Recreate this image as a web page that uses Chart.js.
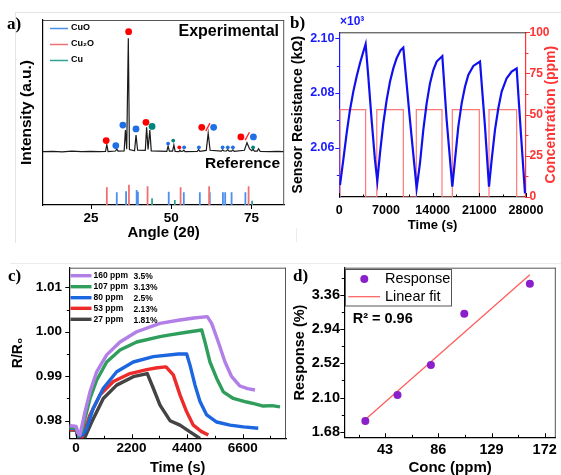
<!DOCTYPE html>
<html>
<head>
<meta charset="utf-8">
<script src="https://cdn.jsdelivr.net/npm/chart.js@4.4.1/dist/chart.umd.min.js"></script>
<style>
  html, body { margin: 0; padding: 0; background: #fff; }
  #fig { position: relative; width: 561px; height: 475px; overflow: hidden; background: #fff; }
  #fig canvas { position: absolute; }
  .rule { position: absolute; background: #e4e4e4; }
</style>
</head>
<body>
<div id="fig">
  <div class="rule" style="left:15px;top:12px;width:546px;height:1px"></div>
  <div class="rule" style="left:15px;top:12px;width:1px;height:231px"></div>
  <div class="rule" style="left:10px;top:263px;width:551px;height:1px;background:#ececec"></div>
  <div class="rule" style="left:296px;top:228px;width:1px;height:14px;background:#ececec"></div>
  <canvas id="chartA" width="290" height="250" style="left:0;top:0"></canvas>
  <canvas id="chartB" width="275" height="245" style="left:286px;top:0"></canvas>
  <canvas id="chartC" width="290" height="240" style="left:0;top:240px"></canvas>
  <canvas id="chartD" width="275" height="240" style="left:286px;top:240px"></canvas>
</div>
<script>
// ---------- a) XRD ----------
const xrdAngle = [10, 13, 16, 19, 22, 25, 27.5, 29.5, 29.9, 30.3, 32.6, 33.0, 33.4,
  35.3, 35.7, 36.1, 36.6, 36.95, 38.55, 39.0, 39.5, 41.9, 42.3, 42.75, 43.3, 43.75,
  48.6, 49.0, 49.4, 50.4, 50.8, 51.2, 52.4, 52.7, 53.0, 53.6, 53.9, 54.3,
  58.1, 58.5, 58.9, 60.9, 61.5, 62.1, 65.6, 66.0, 66.4, 67.2, 67.6, 68.0, 68.8, 69.2, 69.6,
  72.8, 73.6, 74.4, 75.1, 75.5, 75.9, 76.8, 77.2, 77.7, 80.5, 83, 85.2];
const xrdIntensity = [28.8, 29.0, 28.7, 29.1, 28.8, 29.0, 28.8, 29.0, 32.6, 28.9, 29.2, 30.3, 29.1,
  29.2, 40.5, 30.2, 90.1, 30.0, 29.3, 37.8, 29.6, 29.5, 42.0, 30.0, 40.5, 29.3,
  29.0, 31.9, 29.1, 29.1, 32.4, 29.0, 28.9, 29.6, 29.0, 29.1, 29.7, 28.9,
  29.0, 30.0, 29.0, 29.5, 38.8, 29.6, 29.1, 29.8, 29.2, 29.2, 29.9, 29.1, 29.1, 29.8, 29.0,
  29.6, 33.7, 30.3, 29.4, 30.2, 29.1, 29.1, 30.4, 29.0, 28.9, 29.0, 28.8];
const cuoRefAngle = [33.0, 35.9, 39.2, 39.6, 49.2, 53.9, 58.9, 62.0, 66.1, 66.8, 68.8, 73.1];
const cuoRefHeight = [6.9, 7.4, 8.1, 7.2, 7.2, 6.9, 6.9, 6.9, 6.9, 6.9, 6.9, 6.9];
const cu2oRefAngle = [29.9, 36.8, 42.6, 52.9, 61.8, 74.1];
const cu2oRefHeight = [9.6, 11.0, 10.1, 9.6, 10.1, 10.1];
const cuRefAngle = [44.0, 51.1, 75.2];
const cuRefHeight = [3.6, 2.7, 2.3];
const cu2oMarkAngle = [29.7, 36.7, 42.1, 59.5, 71.7];
const cu2oMarkLevel = [34.8, 93.7, 44.7, 42.0, 36.8];
const cuoMarkAngle = [32.7, 34.9, 39.0, 63.2, 75.6];
const cuoMarkLevel = [32.1, 43.2, 41.1, 42.0, 36.8];
const cuMarkAngle = [44.0];
const cuMarkLevel = [42.5];
const cuoDotAngle = [49.0, 54.0, 58.6, 66.0, 67.6, 69.2];
const cuoDotLevel = [33.2, 31.2, 31.2, 31.2, 31.2, 31.2];
const cu2oDotAngle = [52.5];
const cu2oDotLevel = [31.2];
const cuDotAngle = [50.6, 75.5];
const cuDotLevel = [34.8, 31.2];
const slashAngle = [61.4, 73.7];
const slashLevel = [42.1, 37.2];
const angleTicks = [25, 50, 75];

// ---------- b) resistance cycles ----------
const timeB = [105, 600, 1100, 1600, 2100, 2600, 3100, 3600, 3950, 4350, 4850, 5350, 5700,
  6100, 6600, 7100, 7600, 8100, 8600, 9200, 9600, 10600, 11600,
  12100, 12600, 13100, 13600, 14100, 14600, 15450, 16100, 16950,
  17350, 17850, 18350, 18850, 19350, 20100, 21100, 21850, 22450,
  22850, 23350, 23850, 24350, 25100, 25850, 26600, 27200, 27850];
const resistance = [2.0463, 2.0555, 2.0652, 2.0738, 2.0805, 2.0860, 2.0909, 2.0951, 2.0979, 2.0860, 2.0701, 2.0555, 2.0478,
  2.0579, 2.0689, 2.0774, 2.0841, 2.0890, 2.0927, 2.0957, 2.0966, 2.0701, 2.0451,
  2.0543, 2.0665, 2.0762, 2.0835, 2.0884, 2.0915, 2.0935, 2.0701, 2.0457,
  2.0555, 2.0677, 2.0762, 2.0823, 2.0866, 2.0899, 2.0915, 2.0677, 2.0457,
  2.0555, 2.0665, 2.0744, 2.0805, 2.0854, 2.0878, 2.0890, 2.0665, 2.0433];
const concTime = [0, 105, 105, 3950, 3950, 5620, 5620, 9600, 9600, 11550, 11550, 15400, 15400,
  16950, 16950, 21000, 21000, 22450, 22450, 26600, 26600, 28000];
const concPpm = [0, 0, 53, 53, 0, 0, 53, 53, 0, 0, 53, 53, 0, 0, 53, 53, 0, 0, 53, 53, 0, 0];
const timeTicksB = [0, 7000, 14000, 21000, 28000];
const resTicks = [2.06, 2.08, 2.10];
const concTicks = [0, 25, 50, 75, 100];

// ---------- c) R/R0 transients ----------
const t160 = [-262, -117, 8, 86, 158, 356, 555, 819, 1216, 1742, 2404, 3327, 4052, 4667, 5200, 5373, 5636, 5901, 6166, 6494, 6794, 7089];
const r160 = [0.9789, 0.9788, 0.9787, 0.9770, 0.9768, 0.9820, 0.9865, 0.9910, 0.9948, 0.9977, 1.0000, 1.0019, 1.0026, 1.0031, 1.0034, 1.0019, 0.9977, 0.9932, 0.9899, 0.9878, 0.9872, 0.9869];
const t107 = [-262, -117, 8, 86, 221, 555, 819, 1216, 1742, 2404, 3327, 3723, 4383, 4978, 5108, 5306, 5572, 5833, 6229, 6760, 7084, 7417, 7761, 8080];
const r107 = [0.9785, 0.9784, 0.9783, 0.9766, 0.9775, 0.9850, 0.9891, 0.9932, 0.9959, 0.9977, 0.9989, 0.9993, 0.9999, 1.0004, 0.9977, 0.9932, 0.9895, 0.9865, 0.9850, 0.9842, 0.9838, 0.9833, 0.9834, 0.9831];
const t80 = [-262, -117, 8, 86, 269, 424, 685, 1081, 1612, 2269, 3061, 4052, 4383, 4515, 4713, 4911, 5176, 5572, 6099, 6626, 7219];
const r80 = [0.9783, 0.9783, 0.9781, 0.9764, 0.9768, 0.9783, 0.9828, 0.9873, 0.9910, 0.9932, 0.9944, 0.9950, 0.9950, 0.9925, 0.9880, 0.9843, 0.9813, 0.9797, 0.9790, 0.9786, 0.9783];
const t53 = [-262, -117, 8, 86, 226, 555, 951, 1478, 2139, 2800, 3218, 3565, 3854, 4118, 4383, 4645, 4957, 5240];
const r53 = [0.9780, 0.9780, 0.9779, 0.9762, 0.9760, 0.9813, 0.9858, 0.9888, 0.9906, 0.9915, 0.9919, 0.9921, 0.9903, 0.9858, 0.9820, 0.9790, 0.9776, 0.9768];
const t27 = [-262, -117, 8, 86, 318, 622, 1081, 1612, 2269, 2824, 3061, 3327, 3723, 4118, 4515, 4911];
const r27 = [0.9779, 0.9779, 0.9778, 0.9760, 0.9758, 0.9797, 0.9850, 0.9880, 0.9899, 0.9906, 0.9873, 0.9835, 0.9800, 0.9790, 0.9775, 0.9760];
const concLabels = ['160 ppm', '107 ppm', '80 ppm', '53 ppm', '27 ppm'];
const respLabels = ['3.5%', '3.13%', '2.5%', '2.13%', '1.81%'];
const timeTicksC = [0, 2200, 4400, 6600];
const ratioTicks = [0.98, 0.99, 1.00, 1.01];

// ---------- d) response vs concentration ----------
const concD = [27, 53, 80, 107, 160];
const responseD = [1.81, 2.13, 2.50, 3.13, 3.50];
const fitConc = [27, 160];
const fitResponse = [1.83, 3.61];
const concTicksD = [43, 86, 129, 172];
const respTicksD = [1.68, 2.10, 2.52, 2.94, 3.36];

const SANS = '"Liberation Sans", Arial, sans-serif';
const SERIF = '"Liberation Serif", "Times New Roman", serif';
const font = (size, weight = 'bold') => ({ family: SANS, size, weight });
const xy = (xs, ys) => xs.map((x, i) => ({ x, y: ys[i] }));
const sticks = (xs, hs) => xs.flatMap((x, i) => [{ x, y: 0 }, { x, y: hs[i] }, { x, y: null }]);
const between = (list) => list.slice(0, -1).map((v, i) => (v + list[i + 1]) / 2);

Chart.defaults.animation = false;
Chart.defaults.plugins.legend.display = false;
Chart.defaults.plugins.tooltip.enabled = false;
Chart.defaults.color = '#000';

function text(ctx, str, x, y, f, color = '#000', align = 'left', rot = 0) {
  ctx.save();
  ctx.translate(x, y);
  ctx.rotate(rot);
  ctx.font = f;
  ctx.fillStyle = color;
  ctx.textAlign = align;
  ctx.textBaseline = 'middle';
  ctx.fillText(str, 0, 0);
  ctx.restore();
}

// frame edges, short/long tick marks and free text
function decor(spec) {
  return {
    id: 'decor',
    afterDraw(chart) {
      const ctx = chart.ctx, a = chart.chartArea;
      ctx.save();
      if (spec.frame) {
        ctx.strokeStyle = spec.frame.color;
        ctx.lineWidth = 1;
        ctx.beginPath();
        if (spec.frame.top) { ctx.moveTo(a.left, a.top + 0.5); ctx.lineTo(a.right, a.top + 0.5); }
        if (spec.frame.right) { ctx.moveTo(a.right - 0.5, a.top); ctx.lineTo(a.right - 0.5, a.bottom); }
        ctx.stroke();
      }
      (spec.ticks || []).forEach(t => {
        const s = chart.scales[t.axis];
        ctx.strokeStyle = t.color || '#000';
        ctx.lineWidth = 1;
        const mark = (v, len) => {
          const p = Math.round(s.getPixelForValue(v)) + 0.5;
          ctx.beginPath();
          if (s.isHorizontal()) {
            ctx.moveTo(p, s.top);
            ctx.lineTo(p, s.top + (t.inward ? -len : len));
          } else if (s.position === 'left') {
            ctx.moveTo(s.right, p);
            ctx.lineTo(s.right + (t.inward ? len : -len), p);
          } else {
            ctx.moveTo(s.left, p);
            ctx.lineTo(s.left + (t.inward ? -len : len), p);
          }
          ctx.stroke();
        };
        t.major.forEach(v => mark(v, 4));
        (t.minor || []).forEach(v => mark(v, 2.5));
      });
      if (spec.draw) spec.draw(ctx, chart);
      ctx.restore();
    }
  };
}

function axis(o) {
  const cfg = {
    type: 'linear',
    position: o.position,
    min: o.min, max: o.max,
    grid: { display: false, drawTicks: false },
    border: { color: o.color || '#000', width: 1.2 },
    ticks: {
      display: !!o.ticks,
      font: font(o.tickSize || 13),
      color: o.color || '#000',
      padding: o.pad || 3,
      maxRotation: 0,
      autoSkip: false,
      callback: o.fmt || (v => String(v))
    },
    title: o.title ? { display: true, text: o.title, font: font(o.titleSize || 14), color: o.titleColor || '#000', padding: o.titlePad } : { display: false },
    afterFit: s => { if (o.width !== undefined) s.width = o.width; if (o.height !== undefined) s.height = o.height; }
  };
  if (o.ticks) cfg.afterBuildTicks = s => { s.ticks = o.ticks.map(v => ({ value: v })); };
  return cfg;
}

// ---------- chart a ----------
const dotSet = (xs, ys, color, r) => ({ data: xy(xs, ys), pointRadius: r, pointBackgroundColor: color, pointBorderWidth: 0, showLine: false });
new Chart(document.getElementById('chartA'), {
  type: 'scatter',
  data: {
    datasets: [
      dotSet(cu2oMarkAngle, cu2oMarkLevel, '#ff0000', 3.4),
      dotSet(cuoMarkAngle, cuoMarkLevel, '#1f6fe5', 3.4),
      dotSet(cuMarkAngle, cuMarkLevel, '#00857c', 3.4),
      dotSet(cuoDotAngle, cuoDotLevel, '#1f6fe5', 1.9),
      dotSet(cu2oDotAngle, cu2oDotLevel, '#ff0000', 1.9),
      dotSet(cuDotAngle, cuDotLevel, '#00857c', 1.9),
      { data: xy(slashAngle, slashLevel), pointStyle: 'line', rotation: -62, pointRadius: 4.5, pointBorderColor: '#ff2020', pointBorderWidth: 1.3, showLine: false },
      { data: xy(xrdAngle, xrdIntensity), showLine: true, borderColor: '#1a1a1a', borderWidth: 1.2, pointRadius: 0 },
      { data: sticks(cu2oRefAngle, cu2oRefHeight), showLine: true, borderColor: '#f07070', borderWidth: 1.8, pointRadius: 0 },
      { data: sticks(cuoRefAngle, cuoRefHeight), showLine: true, borderColor: '#4b8ff0', borderWidth: 1.8, pointRadius: 0 },
      { data: sticks(cuRefAngle, cuRefHeight), showLine: true, borderColor: '#2ea393', borderWidth: 1.8, pointRadius: 0 }
    ]
  },
  options: {
    responsive: false,
    layout: { padding: { left: 0, top: 20, right: 5.5, bottom: 0 } },
    scales: {
      x: axis({ position: 'bottom', min: 10, max: 85.2, ticks: angleTicks, tickSize: 13.5, pad: 5, height: 45,
        title: 'Angle (2θ)', titleSize: 15, titlePad: { top: 0, bottom: 8 } }),
      y: axis({ position: 'left', min: 0, max: 100, width: 43,
        title: 'Intensity (a.u.)', titleSize: 15.5, titlePad: { top: 17.5, bottom: 0 } })
    }
  },
  plugins: [decor({
    frame: { color: '#555', top: true, right: true },
    ticks: [{ axis: 'x', major: angleTicks }],
    draw(ctx) {
      text(ctx, 'a)', 7, 25, 'bold 17px ' + SERIF);
      const legend = [['CuO', '#4b8ff0'], ['Cu₂O', '#f07070'], ['Cu', '#2ea393']];
      legend.forEach(([name, color], i) => {
        const y = 28 + i * 16;
        ctx.strokeStyle = color; ctx.lineWidth = 1.5;
        ctx.beginPath(); ctx.moveTo(50, y + 0.5); ctx.lineTo(68, y + 0.5); ctx.stroke();
        text(ctx, name, 71, y, 'bold 9px ' + SANS);
      });
      text(ctx, 'Experimental', 279, 32, 'bold 16px ' + SANS, '#000', 'right');
      text(ctx, 'Reference', 280, 164, 'bold 15.5px ' + SANS, '#000', 'right');
    }
  })]
});

// ---------- chart b ----------
const BLUE = '#1a1aff', RED = '#ff3333';
new Chart(document.getElementById('chartB'), {
  type: 'scatter',
  data: {
    datasets: [
      { data: xy(timeB, resistance), yAxisID: 'y', showLine: true, borderColor: '#1010ee', borderWidth: 2.2, pointRadius: 0 },
      { data: xy(concTime, concPpm), yAxisID: 'y2', showLine: true, borderColor: '#ff7878', borderWidth: 1.2, pointRadius: 0 }
    ]
  },
  options: {
    responsive: false,
    layout: { padding: { left: 0, top: 32.3, right: 0, bottom: 0 } },
    scales: {
      x: axis({ position: 'bottom', min: 0, max: 28000, ticks: timeTicksB, tickSize: 12.5, pad: 6.5, height: 48,
        title: 'Time (s)', titleSize: 13, titlePad: { top: 0, bottom: 12 } }),
      y: axis({ position: 'left', min: 2.04195, max: 2.1022, ticks: resTicks, tickSize: 12.5, pad: 4.8, width: 53.3,
        color: BLUE, fmt: v => v.toFixed(2),
        title: 'Sensor Resistance (kΩ)', titleSize: 14, titlePad: { top: 3.6, bottom: 0 } }),
      y2: axis({ position: 'right', min: 0, max: 100, ticks: concTicks, tickSize: 12, pad: 3.5, width: 35, color: RED })
    }
  },
  plugins: [decor({
    frame: { color: '#333', top: true },
    ticks: [
      { axis: 'x', inward: true, major: timeTicksB, minor: between(timeTicksB) },
      { axis: 'y', color: BLUE, major: resTicks, minor: [2.05, 2.07, 2.09] },
      { axis: 'y2', color: RED, major: concTicks, minor: between(concTicks) }
    ],
    draw(ctx) {
      text(ctx, 'b)', 4, 24, 'bold 17px ' + SERIF);
      text(ctx, '×10³', 54, 22, 'bold 12px ' + SANS, BLUE);
      text(ctx, 'Concentration (ppm)', 265, 114.6, 'bold 14px ' + SANS, RED, 'center', -Math.PI / 2);
    }
  })]
});

// ---------- chart c ----------
const cColors = ['#b27ee8', '#2f9e5c', '#1c66e0', '#ee2b2b', '#444444'];
const cSeries = [[t160, r160], [t107, r107], [t80, r80], [t53, r53], [t27, r27]];
new Chart(document.getElementById('chartC'), {
  type: 'scatter',
  data: {
    datasets: cSeries.map(([t, r], i) => ({
      label: concLabels[i], data: xy(t, r), showLine: true, borderColor: cColors[i], borderWidth: 3.4,
      pointRadius: 0, clip: 0, borderJoinStyle: 'round'
    }))
  },
  options: {
    responsive: false,
    layout: { padding: { left: 0, top: 27.7, right: 4, bottom: 0 } },
    scales: {
      x: axis({ position: 'bottom', min: -265, max: 8317, ticks: timeTicksC, tickSize: 13.5, pad: 2, height: 41.7,
        title: 'Time (s)', titleSize: 14.5, titlePad: { top: 0, bottom: 3.5 } }),
      y: axis({ position: 'left', min: 0.97604, max: 1.01441, ticks: ratioTicks, tickSize: 13.5, pad: 7.3, width: 69.3,
        fmt: v => v.toFixed(2),
        title: 'R/R₀', titleSize: 14, titlePad: { top: 9.6, bottom: 0 } })
    }
  },
  plugins: [decor({
    frame: { color: '#555', top: true, right: true },
    ticks: [
      { axis: 'x', inward: true, major: timeTicksC, minor: [1100, 3300, 5500, 7700] },
      { axis: 'y', major: ratioTicks, minor: between(ratioTicks) }
    ],
    draw(ctx) {
      text(ctx, 'c)', 8, 37, 'bold 17px ' + SERIF);
      const rows = [35.7, 46.7, 57.7, 68.3, 79.3];
      rows.forEach((y, i) => {
        ctx.strokeStyle = cColors[i]; ctx.lineWidth = 3.4;
        ctx.beginPath(); ctx.moveTo(70.5, y); ctx.lineTo(91.5, y); ctx.stroke();
        text(ctx, concLabels[i], 93.5, y, 'bold 8.5px ' + SANS);
        text(ctx, respLabels[i], 133.5, y + 1, 'bold 8.5px ' + SANS);
      });
    }
  })]
});

// ---------- chart d ----------
const PURPLE = '#8a1fcc';
new Chart(document.getElementById('chartD'), {
  type: 'scatter',
  data: {
    datasets: [
      { label: 'Response', data: xy(concD, responseD), pointRadius: 4, pointBackgroundColor: PURPLE, pointBorderWidth: 0, showLine: false },
      { label: 'Linear fit', data: xy(fitConc, fitResponse), showLine: true, borderColor: '#ff5a5a', borderWidth: 1.2, pointRadius: 0 }
    ]
  },
  options: {
    responsive: false,
    layout: { padding: { left: 0, top: 27.7, right: 2.7, bottom: 0 } },
    scales: {
      x: axis({ position: 'bottom', min: 10, max: 181, ticks: concTicksD, tickSize: 14.5, pad: 4, height: 42.7,
        title: 'Conc (ppm)', titleSize: 15, titlePad: { top: 0, bottom: 3 } }),
      y: axis({ position: 'left', min: 1.611, max: 3.696, ticks: respTicksD, tickSize: 14.5, pad: 4.3, width: 58.3,
        fmt: v => v.toFixed(2),
        title: 'Response (%)', titleSize: 14.5, titlePad: { top: 5.6, bottom: 0 } })
    }
  },
  plugins: [decor({
    frame: { color: '#555', top: true, right: true },
    ticks: [
      { axis: 'x', inward: true, major: concTicksD, minor: [21.5, 64.5, 107.5, 150.5] },
      { axis: 'y', major: respTicksD, minor: between(respTicksD).concat([3.57]) }
    ],
    draw(ctx) {
      text(ctx, 'd)', 7, 37, 'bold 17px ' + SERIF);
      ctx.strokeStyle = '#555'; ctx.lineWidth = 1;
      ctx.strokeRect(59.5, 29.5, 106, 36.5);
      ctx.fillStyle = PURPLE;
      ctx.beginPath(); ctx.arc(78.3, 39, 4, 0, Math.PI * 2); ctx.fill();
      text(ctx, 'Response', 99, 39, '14.5px ' + SANS);
      ctx.strokeStyle = '#ff5a5a'; ctx.lineWidth = 1.2;
      ctx.beginPath(); ctx.moveTo(62.3, 56.7); ctx.lineTo(94, 56.7); ctx.stroke();
      text(ctx, 'Linear fit', 99, 56.7, '14.5px ' + SANS);
      text(ctx, 'R² = 0.96', 66.7, 79.3, 'bold 14.5px ' + SANS);
    }
  })]
});
</script>
</body>
</html>
